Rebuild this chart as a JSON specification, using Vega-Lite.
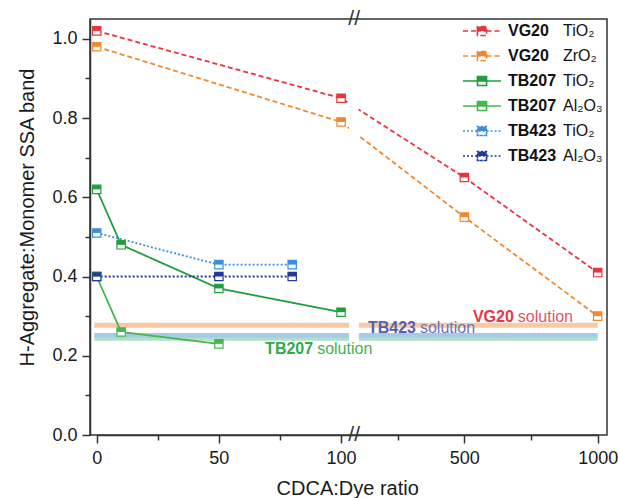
{
  "$schema": "https://vega.github.io/schema/vega-lite/v6.json",
  "width": 517,
  "height": 416,
  "autosize": {"type": "none"},
  "padding": {"left": 90, "top": 19, "right": 11, "bottom": 63},
  "background": "white",
  "config": {
    "font": "Liberation Sans",
    "view": {"stroke": "#333333", "strokeWidth": 1.5},
    "axis": {"grid": false}
  },
  "datasets": {
    "main": [
      {"series": "VG20 TiO₂", "x": 0, "y": 1.02},
      {"series": "VG20 TiO₂", "x": 100, "y": 0.85},
      {"series": "VG20 TiO₂", "x": 500, "y": 0.65},
      {"series": "VG20 TiO₂", "x": 1000, "y": 0.41},
      {"series": "VG20 ZrO₂", "x": 0, "y": 0.98},
      {"series": "VG20 ZrO₂", "x": 100, "y": 0.79},
      {"series": "VG20 ZrO₂", "x": 500, "y": 0.55},
      {"series": "VG20 ZrO₂", "x": 1000, "y": 0.30},
      {"series": "TB207 TiO₂", "x": 0, "y": 0.62},
      {"series": "TB207 TiO₂", "x": 10, "y": 0.48},
      {"series": "TB207 TiO₂", "x": 50, "y": 0.37},
      {"series": "TB207 TiO₂", "x": 100, "y": 0.31},
      {"series": "TB207 Al₂O₃", "x": 0, "y": 0.40},
      {"series": "TB207 Al₂O₃", "x": 10, "y": 0.26},
      {"series": "TB207 Al₂O₃", "x": 50, "y": 0.23},
      {"series": "TB423 TiO₂", "x": 0, "y": 0.51},
      {"series": "TB423 TiO₂", "x": 50, "y": 0.43},
      {"series": "TB423 TiO₂", "x": 80, "y": 0.43},
      {"series": "TB423 Al₂O₃", "x": 0, "y": 0.40},
      {"series": "TB423 Al₂O₃", "x": 50, "y": 0.40},
      {"series": "TB423 Al₂O₃", "x": 80, "y": 0.40}
    ],
    "bands": [
      {"band": "VG20", "from": -1, "to": 103.3, "level": 0.277},
      {"band": "VG20", "from": 103.6, "to": 1000, "level": 0.277},
      {"band": "TB423", "from": -1, "to": 103.3, "level": 0.251},
      {"band": "TB423", "from": 103.6, "to": 1000, "level": 0.251},
      {"band": "TB207", "from": -1, "to": 103.3, "level": 0.243},
      {"band": "TB207", "from": 103.6, "to": 1000, "level": 0.243}
    ],
    "notes": [
      {"dye": "VG20", "word": "solution", "x": 693, "y": 0.298},
      {"dye": "TB423", "word": "solution", "x": 326, "y": 0.269},
      {"dye": "TB207", "word": "solution", "x": 89.4, "y": 0.217}
    ]
  },
  "resolve": {"axis": {"x": "independent", "y": "independent"}},
  "layer": [
    {
      "data": {"name": "bands"},
      "transform": [{"filter": "datum.band === 'VG20'"}],
      "mark": {"type": "rule", "strokeWidth": 5, "color": "#f9c8a5"},
      "encoding": {
        "x": {"field": "from", "type": "quantitative", "axis": null},
        "x2": {"field": "to"},
        "y": {"field": "level", "type": "quantitative", "axis": null}
      }
    },
    {
      "data": {"name": "bands"},
      "transform": [{"filter": "datum.band === 'TB423'"}],
      "mark": {"type": "rule", "strokeWidth": 5, "color": "#a9c9ea"},
      "encoding": {
        "x": {"field": "from", "type": "quantitative", "axis": null},
        "x2": {"field": "to"},
        "y": {"field": "level", "type": "quantitative", "axis": null}
      }
    },
    {
      "data": {"name": "bands"},
      "transform": [{"filter": "datum.band === 'TB207'"}],
      "mark": {"type": "rule", "strokeWidth": 4, "color": "#a3d9c3", "opacity": 0.85},
      "encoding": {
        "x": {"field": "from", "type": "quantitative", "axis": null},
        "x2": {"field": "to"},
        "y": {"field": "level", "type": "quantitative", "axis": null}
      }
    },
    {
      "data": {"name": "main"},
      "mark": {"type": "line", "strokeWidth": 1.8},
      "encoding": {
        "x": {
          "field": "x", "type": "quantitative",
          "scale": {"type": "linear", "domain": [0, 103.5, 103.6, 1000], "range": [6.7, 259.6, 268.66, 507.7], "nice": false, "zero": false},
          "axis": {
            "orient": "bottom", "values": [0, 50, 100, 500, 1000], "format": "d",
            "labelFontSize": 18, "labelColor": "#1a1a1a", "labelPadding": 6, "labelFlush": false, "labelOverlap": false,
            "tickSize": 8, "tickWidth": 1.5, "tickColor": "#333333",
            "domainColor": "#333333", "domainWidth": 1.5,
            "title": "CDCA:Dye ratio", "titleFontSize": 20, "titleFontWeight": "normal", "titleColor": "#1a1a1a", "titlePadding": 11
          }
        },
        "y": {
          "field": "y", "type": "quantitative",
          "scale": {"domain": [0, 1.05], "nice": false, "zero": false},
          "axis": {
            "orient": "left", "values": [0, 0.2, 0.4, 0.6, 0.8, 1.0], "format": ".1f",
            "labelFontSize": 18, "labelColor": "#1a1a1a", "labelPadding": 5, "labelFlush": false, "labelOverlap": false,
            "tickSize": 8, "tickWidth": 1.5, "tickColor": "#333333",
            "domainColor": "#333333", "domainWidth": 1.5,
            "title": "H-Aggregate:Monomer SSA band", "titleFontSize": 20, "titleFontWeight": "normal", "titleColor": "#1a1a1a", "titlePadding": 14, "titleY": 198
          }
        },
        "color": {
          "field": "series", "type": "nominal",
          "scale": {
            "domain": ["VG20 TiO₂", "VG20 ZrO₂", "TB207 TiO₂", "TB207 Al₂O₃", "TB423 TiO₂", "TB423 Al₂O₃"],
            "range": ["#e8343f", "#f0892d", "#1f9e3e", "#45b84b", "#3d8fdc", "#23399a"]
          },
          "legend": {
            "orient": "none", "legendX": 372, "legendY": 4, "title": null, "padding": 0,
            "symbolType": "M-1,0H-0.24M0.24,0H1M-0.24,0V-0.24H0.24V0ZM-0.24,0V0.24H0.24V0V0.24H-0.24Z",
            "symbolSize": 1444, "symbolStrokeWidth": 1.6, "clipHeight": 16,
            "labelFontSize": 16, "labelFontWeight": "bold", "labelColor": "#111111", "labelOffset": 6,
            "rowPadding": 9,
            "labelExpr": "split(datum.label, ' ')[0]",
            "encoding": {"symbols": {"fill": {"value": {"expr": "scale('color', datum.value)"}}, "stroke": {"value": {"expr": "scale('color', datum.value)"}}}}
          }
        },
        "strokeDash": {
          "field": "series", "type": "nominal",
          "scale": {
            "domain": ["VG20 TiO₂", "VG20 ZrO₂", "TB207 TiO₂", "TB207 Al₂O₃", "TB423 TiO₂", "TB423 Al₂O₃"],
            "range": [[5, 3], [5, 3], [1, 0], [1, 0], [2, 2], [2, 2]]
          }
        }
      }
    },
    {
      "data": {"values": [{}]},
      "mark": {"type": "rect", "color": "white"},
      "encoding": {
        "x": {"datum": 103.3, "type": "quantitative", "axis": null},
        "x2": {"datum": 103.6},
        "y": {"datum": 0.004, "type": "quantitative", "axis": null},
        "y2": {"datum": 1.046}
      }
    },
    {
      "data": {"name": "main"},
      "mark": {"type": "point", "shape": "square", "filled": false, "fill": "white", "size": 70, "strokeWidth": 1.2, "opacity": 1},
      "encoding": {
        "x": {
          "field": "x", "type": "quantitative",
          "axis": {"orient": "bottom", "values": [25, 75, 250, 750], "labels": false, "domain": false, "tickSize": 5, "tickWidth": 1.5, "tickColor": "#333333", "title": null}
        },
        "y": {
          "field": "y", "type": "quantitative",
          "axis": {"orient": "left", "values": [0.1, 0.3, 0.5, 0.7, 0.9], "labels": false, "domain": false, "tickSize": 5, "tickWidth": 1.5, "tickColor": "#333333", "title": null}
        },
        "color": {"field": "series", "type": "nominal"},
        "shape": {
          "field": "series", "type": "nominal",
          "scale": {
            "domain": ["VG20 TiO₂", "VG20 ZrO₂", "TB207 TiO₂", "TB207 Al₂O₃", "TB423 TiO₂", "TB423 Al₂O₃"],
            "range": ["square", "square", "square", "square", "square", "square"]
          },
          "legend": {
            "orient": "top-right", "offset": 4, "title": null, "padding": 0,
            "symbolType": "M-1,0H-0.24M0.24,0H1M-0.24,0V-0.24H0.24V0ZM-0.24,0V0.24H0.24V0V0.24H-0.24Z",
            "symbolSize": 1444, "symbolOpacity": 0, "clipHeight": 16,
            "labelFontSize": 16, "labelFontWeight": "normal", "labelColor": "#111111", "labelOffset": 6,
            "rowPadding": 9,
            "labelExpr": "split(datum.label, ' ')[1] + '   '"
          }
        }
      }
    },
    {
      "data": {"name": "main"},
      "mark": {"type": "point", "shape": "M-1,-1H1V0H-1Z", "filled": true, "size": 70, "opacity": 1, "strokeWidth": 0},
      "encoding": {
        "x": {"field": "x", "type": "quantitative", "axis": null},
        "y": {"field": "y", "type": "quantitative", "axis": null},
        "color": {"field": "series", "type": "nominal"}
      }
    },
    {
      "data": {"name": "notes"},
      "mark": {"type": "text", "align": "right", "baseline": "middle", "fontSize": 16, "fontWeight": "bold", "dx": -2},
      "encoding": {
        "x": {"field": "x", "type": "quantitative", "axis": null},
        "y": {"field": "y", "type": "quantitative", "axis": null},
        "text": {"field": "dye"},
        "color": {"condition": [{"test": "datum.dye === 'VG20'", "value": "#e33845"}, {"test": "datum.dye === 'TB423'", "value": "#5560ae"}], "value": "#34a94a"}
      }
    },
    {
      "data": {"name": "notes"},
      "mark": {"type": "text", "align": "left", "baseline": "middle", "fontSize": 16, "dx": 2},
      "encoding": {
        "x": {"field": "x", "type": "quantitative", "axis": null},
        "y": {"field": "y", "type": "quantitative", "axis": null},
        "text": {"field": "word"},
        "color": {"condition": [{"test": "datum.dye === 'VG20'", "value": "#dc5468"}, {"test": "datum.dye === 'TB423'", "value": "#6a72b8"}], "value": "#45b150"}
      }
    },
    {
      "data": {"values": [{}]},
      "mark": {"type": "text", "text": "//", "fontSize": 21, "color": "#333333", "baseline": "middle", "align": "center"},
      "encoding": {
        "x": {"datum": 103.55, "type": "quantitative", "axis": null},
        "y": {"datum": 0, "type": "quantitative", "axis": null}
      }
    },
    {
      "data": {"values": [{}]},
      "mark": {"type": "text", "text": "//", "fontSize": 21, "color": "#333333", "baseline": "middle", "align": "center"},
      "encoding": {
        "x": {"datum": 103.55, "type": "quantitative", "axis": null},
        "y": {"datum": 1.05, "type": "quantitative", "axis": null}
      }
    }
  ]
}
